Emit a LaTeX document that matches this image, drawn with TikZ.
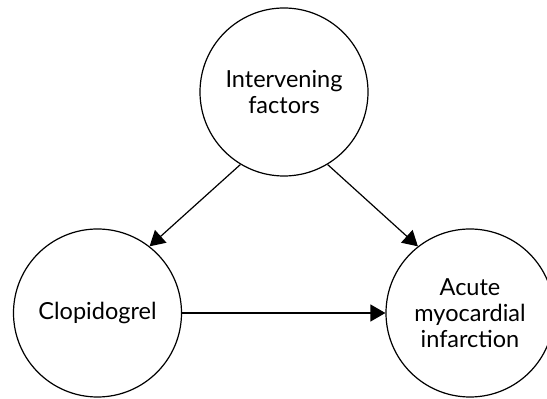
\documentclass[tikz,border=0pt]{standalone}
\usepackage{fontspec}
\setmainfont{Lato}
\usetikzlibrary{arrows.meta}

\begin{document}
\begin{tikzpicture}[x=1pt, y=1pt, line width=1.2pt,
    factor/.style={circle, draw, fill=white, minimum size=168pt, inner sep=1.5pt, align=center, font=\fontsize{23.5}{26}\selectfont},
    effect/.style={-{Triangle[length=15pt, width=17pt]}}]
            \useasboundingbox (0, 0) rectangle (547, 399);

            %nodes
            \node[factor] (interv) at (284, 307) {Intervening\\factors};
            \node[factor] (clopi) at (97.5, 86) {Clopidogrel};
            \node[factor] (ami) at (470, 86) {Acute\\myocardial\\infarction};

            %edges
            \draw[effect] (interv.239) -- (clopi.52);
            \draw[effect] (interv.301) -- (ami.128);
            \draw[effect] (clopi) -- (ami);
        \end{tikzpicture}
\end{document}
